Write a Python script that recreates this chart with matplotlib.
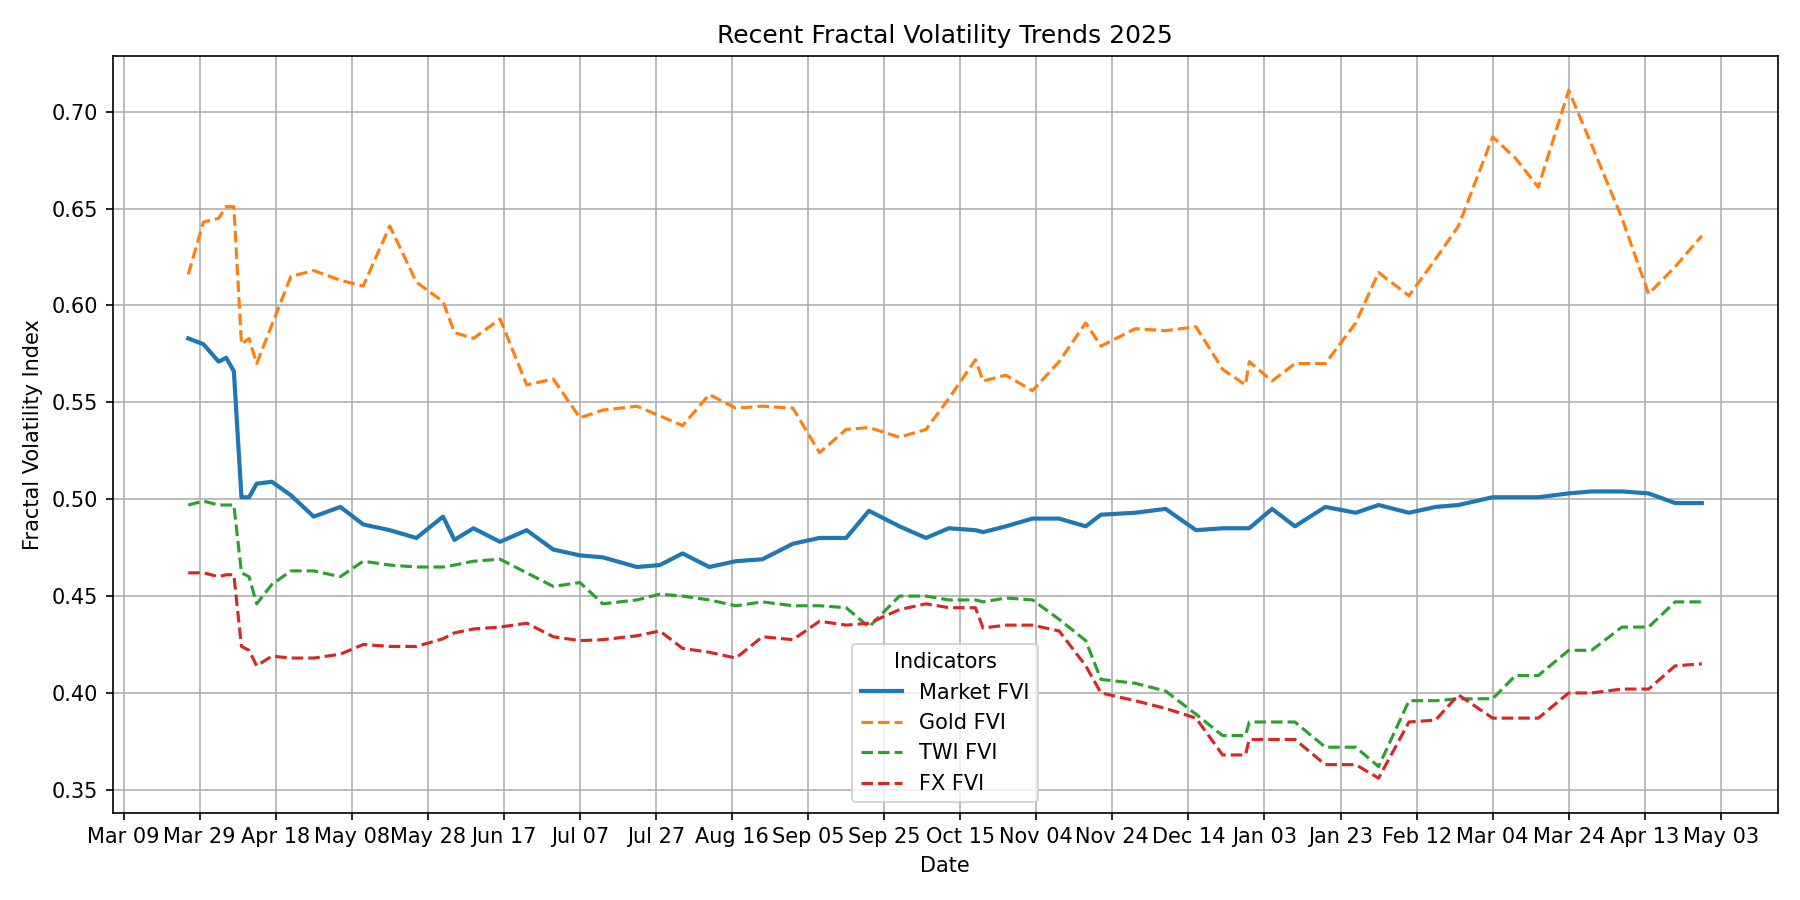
import pandas as pd
import matplotlib
matplotlib.use("Agg")
import matplotlib.pyplot as plt
import matplotlib.dates as mdates

# Data
dates = [
    "2025-03-26", "2025-03-30", "2025-04-03", "2025-04-05", "2025-04-07",
    "2025-04-09", "2025-04-11", "2025-04-13", "2025-04-17", "2025-04-22",
    "2025-04-28", "2025-05-05", "2025-05-11", "2025-05-18", "2025-05-25",
    "2025-06-01", "2025-06-04", "2025-06-09", "2025-06-16", "2025-06-23",
    "2025-06-30", "2025-07-07", "2025-07-13", "2025-07-22", "2025-07-28",
    "2025-08-03", "2025-08-10", "2025-08-17", "2025-08-24", "2025-09-01",
    "2025-09-08", "2025-09-15", "2025-09-21", "2025-09-29", "2025-10-06",
    "2025-10-12", "2025-10-19", "2025-10-21", "2025-10-27", "2025-11-03",
    "2025-11-10", "2025-11-17", "2025-11-21", "2025-11-30", "2025-12-08",
    "2025-12-16", "2025-12-23", "2025-12-29", "2025-12-30", "2026-01-05",
    "2026-01-11", "2026-01-19", "2026-01-27", "2026-02-02", "2026-02-10",
    "2026-02-17", "2026-02-23", "2026-03-04", "2026-03-10", "2026-03-16",
    "2026-03-24", "2026-03-30", "2026-04-07", "2026-04-14", "2026-04-21",
    "2026-04-28",
]

market_fvi = [
    0.583, 0.580, 0.571, 0.573, 0.566, 0.501, 0.501, 0.508, 0.509, 0.502,
    0.491, 0.496, 0.487, 0.484, 0.480, 0.491, 0.479, 0.485, 0.478, 0.484,
    0.474, 0.471, 0.470, 0.465, 0.466, 0.472, 0.465, 0.468, 0.469, 0.477,
    0.480, 0.480, 0.494, 0.486, 0.480, 0.485, 0.484, 0.483, 0.486, 0.490,
    0.490, 0.486, 0.492, 0.493, 0.495, 0.484, 0.485, 0.485, 0.485, 0.495,
    0.486, 0.496, 0.493, 0.497, 0.493, 0.496, 0.497, 0.501, 0.501, 0.501,
    0.503, 0.504, 0.504, 0.503, 0.498, 0.498,
]

gold_fvi = [
    0.616, 0.643, 0.645, 0.651, 0.651, 0.580, 0.583, 0.570, 0.590, 0.615,
    0.618, 0.613, 0.610, 0.641, 0.612, 0.602, 0.586, 0.583, 0.593, 0.559,
    0.562, 0.542, 0.546, 0.548, 0.543, 0.538, 0.554, 0.547, 0.548, 0.547,
    0.524, 0.536, 0.537, 0.532, 0.536, 0.552, 0.572, 0.561, 0.564, 0.556,
    0.571, 0.591, 0.579, 0.588, 0.587, 0.589, 0.567, 0.559, 0.571, 0.561,
    0.570, 0.570, 0.591, 0.617, 0.605, 0.624, 0.641, 0.687, 0.676, 0.661,
    0.711, 0.683, 0.645, 0.606, 0.620, 0.636,
]

twi_fvi = [
    0.497, 0.499, 0.497, 0.497, 0.497, 0.462, 0.460, 0.446, 0.456, 0.463,
    0.463, 0.460, 0.468, 0.466, 0.465, 0.465, 0.466, 0.468, 0.469, 0.462,
    0.455, 0.457, 0.446, 0.448, 0.451, 0.450, 0.448, 0.445, 0.447, 0.445,
    0.445, 0.444, 0.434, 0.450, 0.450, 0.448, 0.448, 0.447, 0.449, 0.448,
    0.438, 0.427, 0.407, 0.405, 0.401, 0.389, 0.378, 0.378, 0.385, 0.385,
    0.385, 0.372, 0.372, 0.362, 0.396, 0.396, 0.397, 0.397, 0.409, 0.409,
    0.422, 0.422, 0.434, 0.434, 0.447, 0.447,
]

fx_fvi = [
    0.462, 0.462, 0.460, 0.461, 0.461, 0.424, 0.422, 0.414, 0.419, 0.418,
    0.418, 0.420, 0.425, 0.424, 0.424, 0.428, 0.431, 0.433, 0.434, 0.436,
    0.429, 0.427, 0.4275, 0.4295, 0.432, 0.423, 0.421, 0.418, 0.429, 0.4275,
    0.437, 0.435, 0.436, 0.443, 0.446, 0.444, 0.444, 0.4335, 0.435, 0.435,
    0.432, 0.414, 0.400, 0.396, 0.392, 0.387, 0.368, 0.368, 0.376, 0.376,
    0.376, 0.363, 0.363, 0.356, 0.385, 0.386, 0.399, 0.387, 0.387, 0.387,
    0.400, 0.400, 0.402, 0.402, 0.414, 0.415,
]

tick_start = "2025-03-09"
tick_end = "2026-05-03"

df = pd.DataFrame({
    "Market FVI": market_fvi,
    "Gold FVI": gold_fvi,
    "TWI FVI": twi_fvi,
    "FX FVI": fx_fvi,
}, index=pd.to_datetime(dates))

fig, ax = plt.subplots(figsize=(12, 6))
ax.plot(df.index, df["Market FVI"], color="tab:blue", linewidth=2, label="Market FVI")
ax.plot(df.index, df["Gold FVI"], color="tab:orange", linestyle="--", linewidth=1.5, label="Gold FVI")
ax.plot(df.index, df["TWI FVI"], color="tab:green", linestyle="--", linewidth=1.5, label="TWI FVI")
ax.plot(df.index, df["FX FVI"], color="tab:red", linestyle="--", linewidth=1.5, label="FX FVI")

ax.set_xticks(pd.date_range(tick_start, tick_end, freq="20D"))
ax.xaxis.set_major_formatter(mdates.DateFormatter("%b %d"))

ax.set_title("Recent Fractal Volatility Trends 2025")
ax.set_xlabel("Date")
ax.set_ylabel("Fractal Volatility Index")
ax.grid(True)
ax.legend(title="Indicators", loc="lower center")

plt.tight_layout()
plt.savefig("out.png", dpi=150)
